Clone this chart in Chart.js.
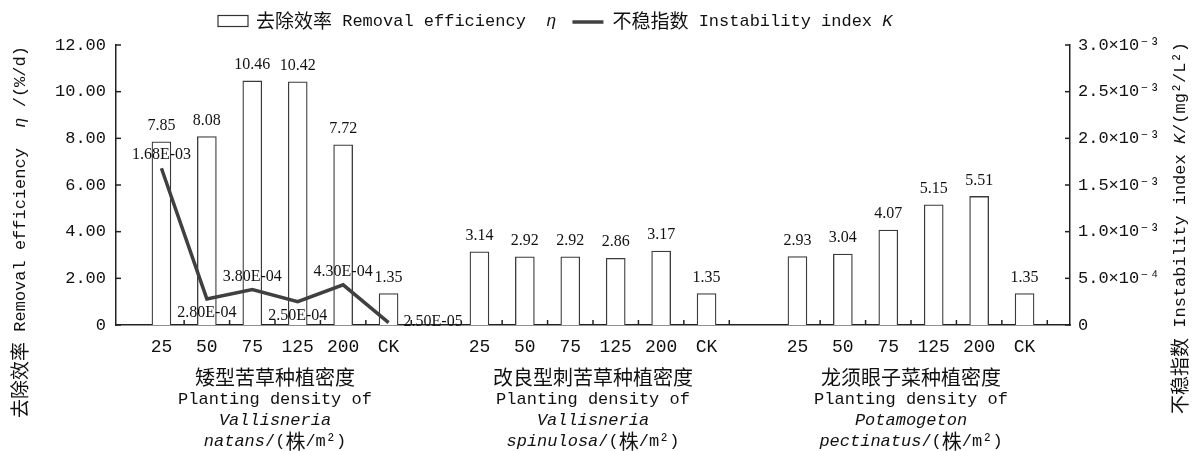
<!DOCTYPE html>
<html>
<head>
<meta charset="utf-8">
<script src="https://cdn.jsdelivr.net/npm/chart.js@4.4.1/dist/chart.umd.min.js"></script>
<style>
  html, body { margin: 0; padding: 0; background: #fff; }
</style>
</head>
<body>
<canvas id="chart" width="1196" height="451"></canvas>
<script>
// planting densities (same for the three species), CK = control
const densities = ['25', '50', '75', '125', '200', 'CK'];
// removal efficiency eta (%/d)
const effNatans = [7.85, 8.08, 10.46, 10.42, 7.72, 1.35];
const effSpinulosa = [3.14, 2.92, 2.92, 2.86, 3.17, 1.35];
const effPectinatus = [2.93, 3.04, 4.07, 5.15, 5.51, 1.35];
// instability index K, only measured for V. natans
const instNatans = [1.68e-3, 2.8e-4, 3.8e-4, 2.5e-4, 4.3e-4, 2.5e-5];
const instLabelPos = ['top', 'bottom', 'top', 'bottom', 'top', 'right'];
// axis ranges: min, max, step
const effAxis = [0, 12, 2];
const instAxis = [0, 0.003, 0.0005];

const groupTitles = [
  [[{ t: '矮型苦草种植密度' }], [{ t: 'Planting density of' }], [{ t: 'Vallisneria', it: true }], [{ t: 'natans', it: true }, { t: '/(株/m²)' }]],
  [[{ t: '改良型刺苦草种植密度' }], [{ t: 'Planting density of' }], [{ t: 'Vallisneria', it: true }], [{ t: 'spinulosa', it: true }, { t: '/(株/m²)' }]],
  [[{ t: '龙须眼子菜种植密度' }], [{ t: 'Planting density of' }], [{ t: 'Potamogeton', it: true }], [{ t: 'pectinatus', it: true }, { t: '/(株/m²)' }]]
];

// one empty slot before, between and after the groups
const xLabels = ['', ...densities, '', ...densities, '', ...densities, ''];
const barData = [null, ...effNatans, null, ...effSpinulosa, null, ...effPectinatus, null];
const lineData = [null, ...instNatans];
while (lineData.length < xLabels.length) lineData.push(null);
const groupStart = [1, 8, 15];

const sup = { '-': '⁻', '0': '⁰', '1': '¹', '2': '²', '3': '³', '4': '⁴', '5': '⁵', '6': '⁶', '7': '⁷', '8': '⁸', '9': '⁹' };
function sciTick(v) {
  if (v === 0) return '0';
  const e = Math.floor(Math.log10(v) + 1e-9);
  const m = (v / Math.pow(10, e)).toFixed(1);
  return m + '×10' + String(e).split('').map(c => sup[c]).join('');
}
function eLabel(v) {
  const [m, e] = v.toExponential(2).split('e');
  const n = Math.abs(parseInt(e, 10));
  return m + 'E' + (e[0] === '-' ? '-' : '+') + (n < 10 ? '0' + n : n);
}

const CJK = /[\u2e80-\u9fff\uf900-\ufaff\uff00-\uffef]/;
function runs(segs) {
  const out = [];
  segs.forEach(s => {
    let cur = null;
    for (const ch of s.t) {
      const c = CJK.test(ch);
      if (!cur || cur.c !== c) { cur = { t: '', c, it: !!s.it }; out.push(cur); }
      cur.t += ch;
    }
  });
  return out;
}
function fontFor(r, sz) {
  return r.c ? sz.cjk + 'px "Noto Sans CJK SC"'
    : (r.it ? 'italic ' : '') + sz.lat + 'px "Liberation Mono", "DejaVu Sans Mono", monospace';
}
function drawRich(ctx, segs, x, y, sz, align) {
  const rs = runs(segs);
  let w = 0;
  rs.forEach(r => { ctx.font = fontFor(r, sz); r.w = ctx.measureText(r.t).width; w += r.w; });
  let cx = align === 'center' ? x - w / 2 : x;
  ctx.textAlign = 'left';
  ctx.textBaseline = 'middle';
  rs.forEach(r => { ctx.font = fontFor(r, sz); ctx.fillText(r.t, cx, y); cx += r.w; });
  return w;
}
function seg(ctx, x1, y1, x2, y2) {
  ctx.beginPath(); ctx.moveTo(x1, y1); ctx.lineTo(x2, y2); ctx.stroke();
}

const decor = {
  id: 'decor',
  afterDraw(chart) {
    const { ctx, chartArea: a } = chart;
    const { x, y, y1 } = chart.scales;
    ctx.save();
    ctx.strokeStyle = '#222';
    ctx.lineWidth = 1.5;
    y.ticks.forEach(t => { const p = y.getPixelForValue(t.value); seg(ctx, a.left, p, a.left + 5, p); });
    y1.ticks.forEach(t => { const p = y1.getPixelForValue(t.value); seg(ctx, a.right - 5, p, a.right, p); });
    xLabels.forEach((l, i) => {
      if (!l) return;
      const p = (x.getPixelForValue(i) + x.getPixelForValue(i + 1)) / 2;
      seg(ctx, p, a.bottom, p, a.bottom - 5);
    });

    ctx.fillStyle = '#111';
    ctx.font = '16px "Liberation Serif", serif';
    ctx.textAlign = 'center';
    ctx.textBaseline = 'middle';
    chart.getDatasetMeta(1).data.forEach((el, i) => {
      if (barData[i] == null) return;
      ctx.fillText(barData[i].toFixed(2), el.x, el.y - 16);
    });
    chart.getDatasetMeta(0).data.forEach((el, i) => {
      const v = lineData[i];
      if (v == null) return;
      const pos = instLabelPos[i - 1];
      if (pos === 'right') {
        ctx.textAlign = 'left';
        ctx.fillText(eLabel(v), el.x + 15, el.y - 1);
      } else {
        ctx.textAlign = 'center';
        ctx.fillText(eLabel(v), el.x, pos === 'top' ? el.y - 13 : el.y + 14);
      }
    });

    // group titles under the axis
    const lineY = [52, 74, 95, 116];
    groupTitles.forEach((lines, g) => {
      const c = (x.getPixelForValue(groupStart[g]) + x.getPixelForValue(groupStart[g] + 5)) / 2;
      lines.forEach((segs, k) => drawRich(ctx, segs, c, a.bottom + lineY[k], { cjk: 20, lat: 17 }, 'center'));
    });

    // axis titles
    const tsz = { cjk: 19, lat: 17 };
    ctx.save();
    ctx.translate(20, 232);
    ctx.rotate(-Math.PI / 2);
    drawRich(ctx, [{ t: '去除效率 Removal efficiency  ' }, { t: 'η', it: true }, { t: ' /(%/d)' }], 0, 0, tsz, 'center');
    ctx.restore();
    ctx.save();
    ctx.translate(1180, 228);
    ctx.rotate(-Math.PI / 2);
    drawRich(ctx, [{ t: '不稳指数 Instability index ' }, { t: 'K', it: true }, { t: '/(mg²/L²)' }], 0, 0, tsz, 'center');
    ctx.restore();

    // legend
    const ly = 21;
    let lx = 218;
    ctx.strokeStyle = '#333';
    ctx.lineWidth = 1.2;
    ctx.fillStyle = '#fff';
    ctx.fillRect(lx, ly - 5.5, 30, 11);
    ctx.strokeRect(lx, ly - 5.5, 30, 11);
    lx += 38;
    ctx.fillStyle = '#111';
    lx += drawRich(ctx, [{ t: '去除效率 Removal efficiency  ' }, { t: 'η', it: true }], lx, ly, tsz, 'left');
    lx += 16;
    ctx.strokeStyle = '#404040';
    ctx.lineWidth = 3.5;
    seg(ctx, lx, ly + 1, lx + 31, ly + 1);
    lx += 40;
    drawRich(ctx, [{ t: '不稳指数 Instability index ' }, { t: 'K', it: true }], lx, ly, tsz, 'left');
    ctx.restore();
  }
};

Chart.defaults.font.family = '"Liberation Mono", "DejaVu Sans Mono", monospace';
Chart.defaults.color = '#111';

const axisBorder = { display: true, color: '#222', width: 1.5 };

new Chart(document.getElementById('chart'), {
  type: 'bar',
  data: {
    labels: xLabels,
    datasets: [
      {
        type: 'line',
        label: '不稳指数 Instability index K',
        data: lineData,
        yAxisID: 'y1',
        borderColor: '#404040',
        borderWidth: 3.5,
        pointRadius: 0,
        tension: 0,
        order: 0
      },
      {
        type: 'bar',
        label: '去除效率 Removal efficiency η',
        data: barData,
        yAxisID: 'y',
        backgroundColor: '#fff',
        borderColor: '#3a3a3a',
        borderWidth: 1.3,
        barThickness: 19,
        order: 1
      }
    ]
  },
  options: {
    responsive: false,
    animation: false,
    layout: { padding: { top: 45, left: 0, right: 0, bottom: 0 } },
    plugins: { legend: { display: false }, tooltip: { enabled: false } },
    scales: {
      x: {
        type: 'category',
        offset: false,
        grid: { display: false, drawTicks: false },
        border: axisBorder,
        ticks: { font: { size: 18 }, maxRotation: 0, autoSkip: false, padding: 11 },
        afterFit: s => { s.height = 126; }
      },
      y: {
        position: 'left',
        min: effAxis[0],
        max: effAxis[1],
        grid: { display: false, drawTicks: false },
        border: axisBorder,
        ticks: {
          stepSize: effAxis[2],
          font: { size: 17 },
          padding: 10,
          callback: v => (v === 0 ? '0' : v.toFixed(2))
        },
        afterFit: s => { s.width = 116; }
      },
      y1: {
        position: 'right',
        min: instAxis[0],
        max: instAxis[1],
        grid: { display: false, drawTicks: false },
        border: axisBorder,
        ticks: {
          stepSize: instAxis[2],
          font: { size: 17 },
          padding: 8,
          callback: v => sciTick(v)
        },
        afterFit: s => { s.width = 126; }
      }
    }
  },
  plugins: [decor]
});
</script>
</body>
</html>
